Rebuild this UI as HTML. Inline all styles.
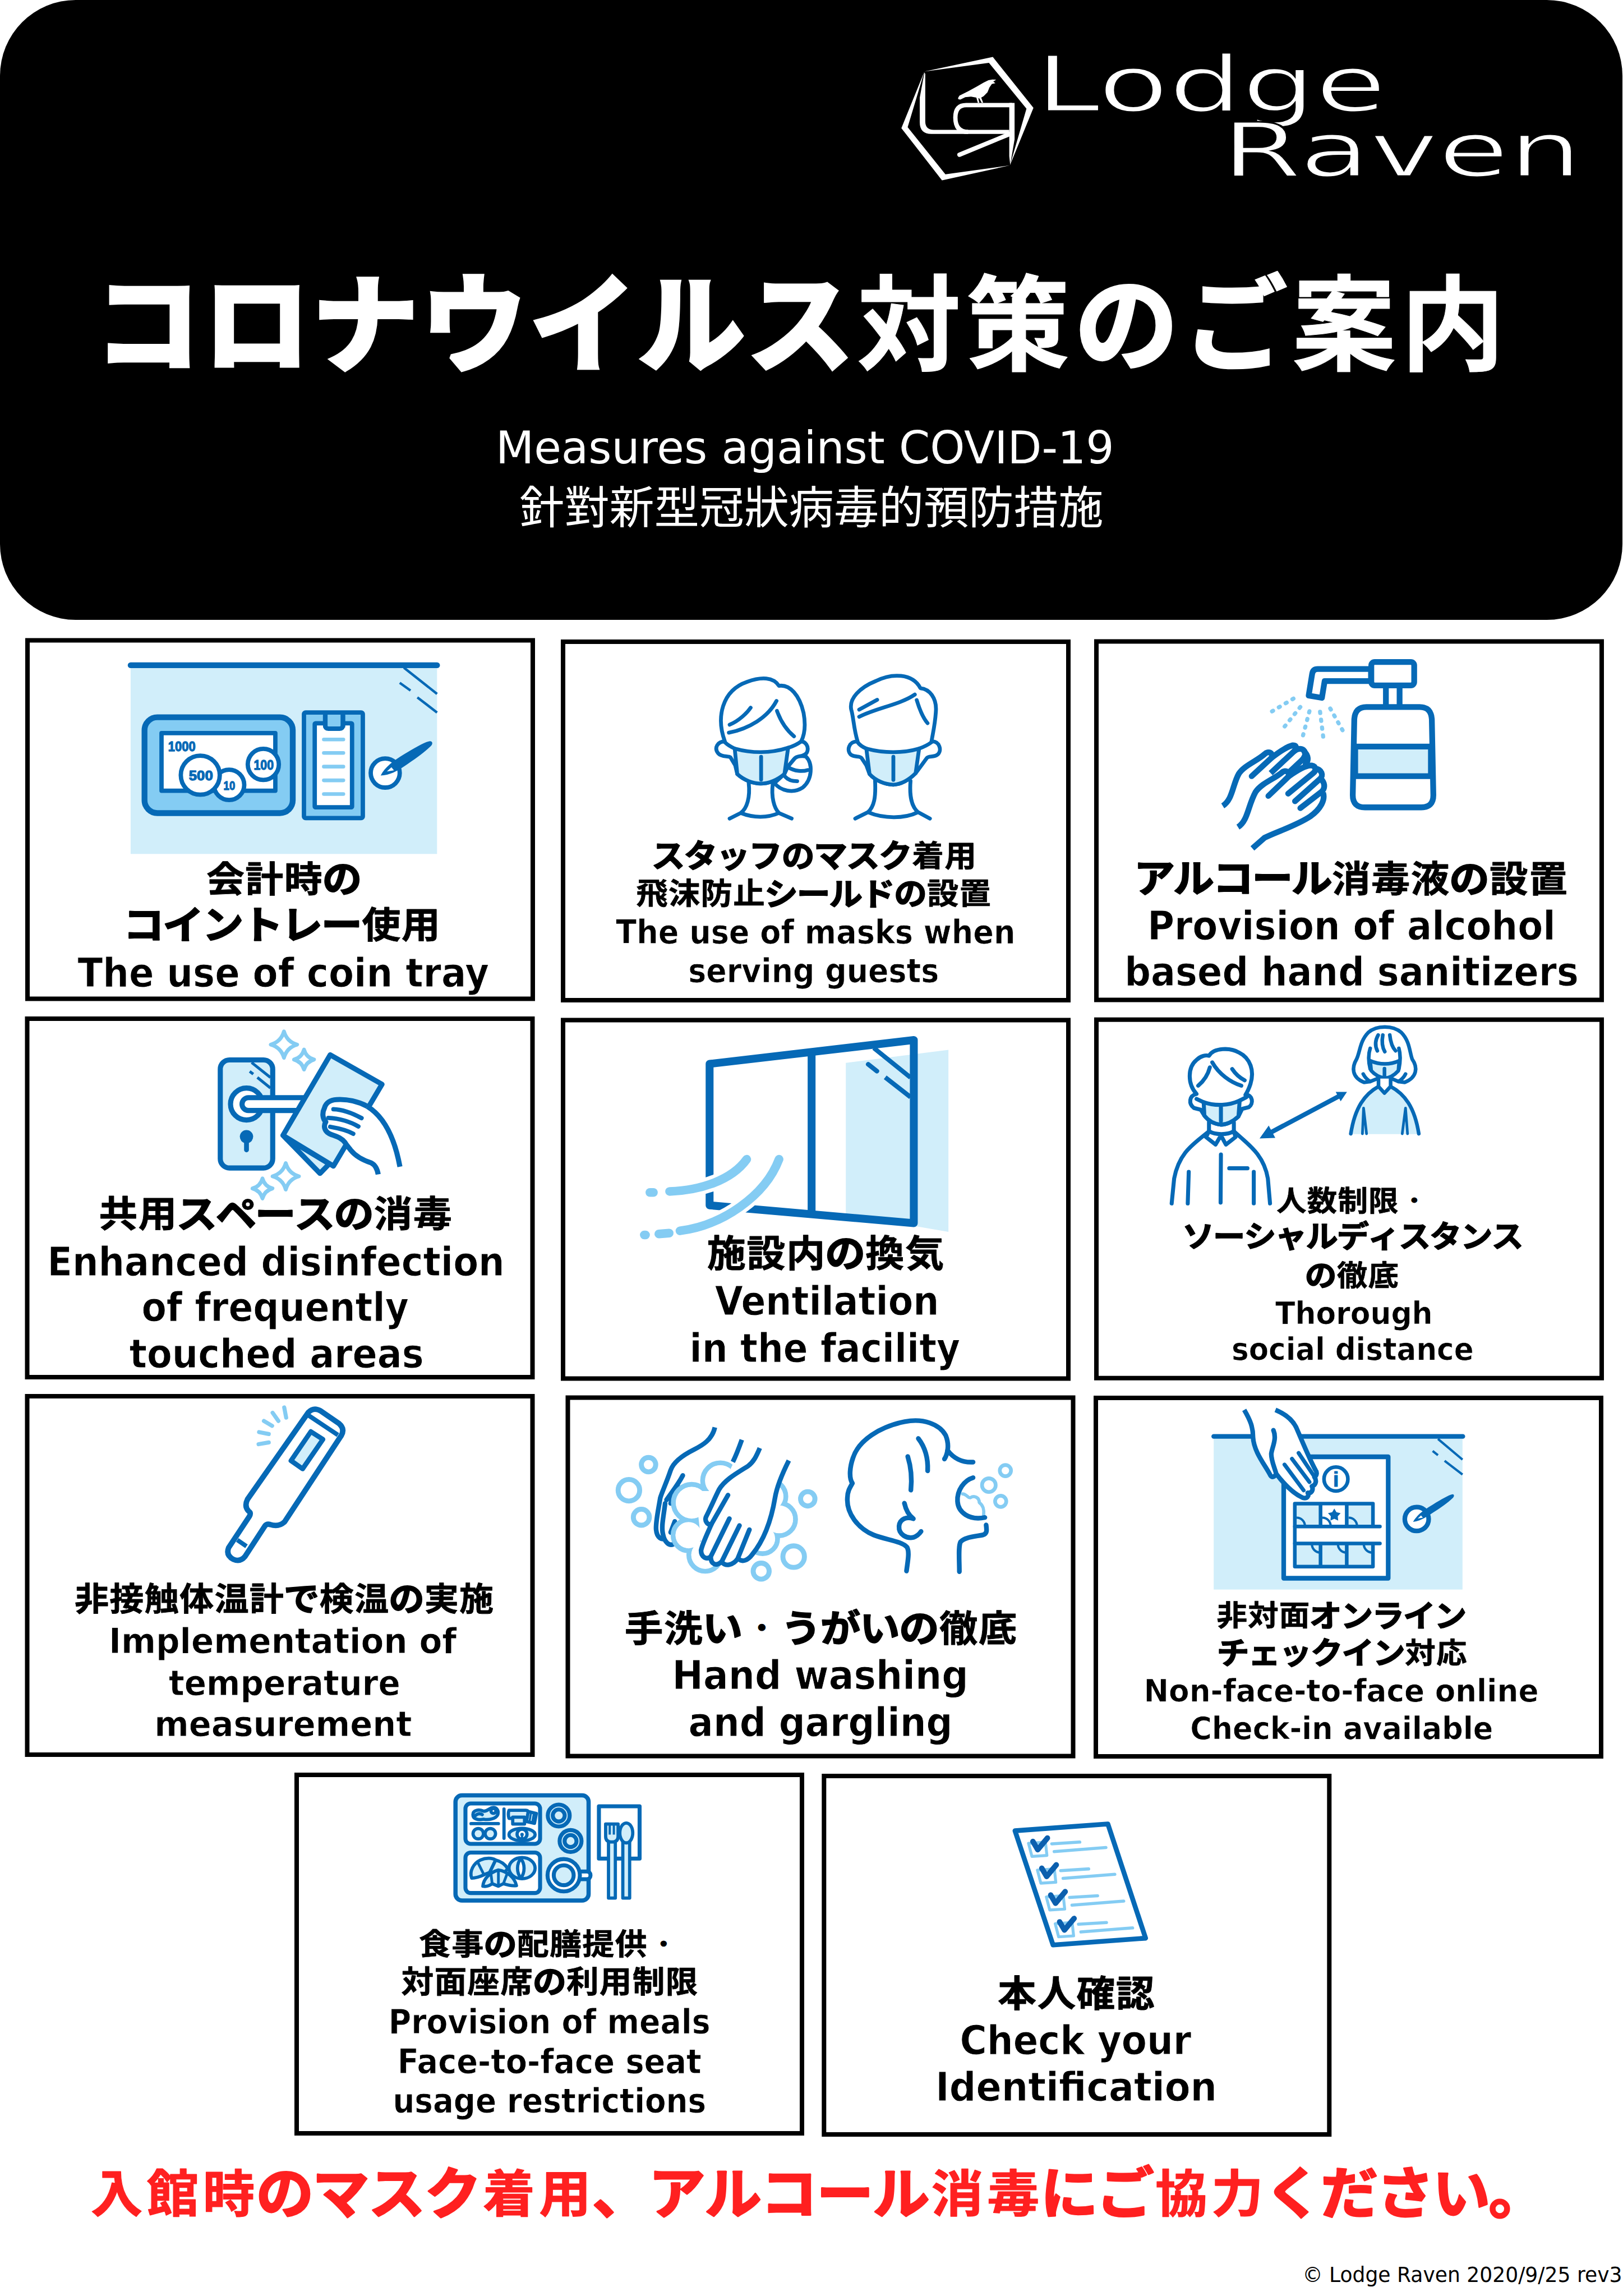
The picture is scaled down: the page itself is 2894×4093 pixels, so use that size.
<!DOCTYPE html>
<html lang="ja"><head><meta charset="utf-8"><title>コロナウイルス対策のご案内 - Lodge Raven</title>
<style>
html,body{margin:0;padding:0;background:#fff}
body{width:2894px;height:4093px;overflow:hidden}
svg{display:block}
.jb{font-kerning:none;font-family:"Liberation Sans","Noto Sans CJK JP",sans-serif;font-weight:700}
.jr{font-kerning:none;font-family:"Liberation Sans","Noto Sans CJK JP",sans-serif;font-weight:400}
.eb{font-family:"DejaVu Sans","Liberation Sans","Noto Sans CJK JP",sans-serif;font-weight:700}
.er{font-family:"DejaVu Sans","Liberation Sans","Noto Sans CJK JP",sans-serif;font-weight:400}
.s{fill:none;stroke:#0669b6;stroke-linecap:round;stroke-linejoin:round}
.sw{fill:#fff;stroke:#0669b6;stroke-linecap:round;stroke-linejoin:round}
.sl{fill:#d1eefa;stroke:#0669b6;stroke-linecap:round;stroke-linejoin:round}
.sm{fill:#84ccf3;stroke:#0669b6;stroke-linecap:round;stroke-linejoin:round}
.d{fill:#0669b6;stroke:none}
.l{fill:none;stroke:#84ccf3;stroke-linecap:round;stroke-linejoin:round}
.lw{fill:#fff;stroke:#84ccf3;stroke-linecap:round;stroke-linejoin:round}
.fl{fill:#d1eefa;stroke:none}
.fw{fill:#fff;stroke:none}
.cn{font-family:"Liberation Sans","DejaVu Sans",sans-serif;font-weight:700;fill:#0669b6;stroke:#0669b6;stroke-width:3.5px;stroke-linejoin:round}
</style></head><body>
<svg width="2894" height="4093" viewBox="0 0 2894 4093">
<rect width="2894" height="4093" fill="#fff"/>
<path d="M135 0H2758A135 135 0 0 1 2893 135V970A135 135 0 0 1 2758 1105H135A135 135 0 0 1 0 970V135A135 135 0 0 1 135 0Z" fill="#000"/>
<g transform="translate(1590 80) scale(0.17253)">

<g fill="#fff">
<path fill-rule="evenodd" d="M100 860L338 275L1045 125L1465 650L1222 1245L520 1400ZM165 850L555 1338L1222 1245L1393 660L1005 185L338 275Z"/>
<path d="M338 285L347 300V790Q347 878 435 878H1215V920H410Q290 920 290 800V545Z"/>
<path d="M1215 600H1270V975L1225 1240L1215 1150Z"/>
<path d="M685 550L700 525L790 480L880 430L950 390L1000 365L1040 358L1080 360L1050 380L1072 396L1035 405L1010 440L990 490L950 530L925 545L945 596L930 599L905 552L895 552L906 599L890 599L875 545L820 535L760 540L710 565L690 562Z"/>
</g>
<g fill="none" stroke="#fff" stroke-width="45">
<path d="M1245 622H770Q658 622 658 750Q658 899 790 899"/>
<path d="M1235 915L700 1135" stroke-linecap="round"/>
</g>

</g>
<g font-family="'DejaVu Sans','Liberation Sans',sans-serif" font-weight="400" fill="#fff" stroke="#000" stroke-width="3">
<text x="1846.5" y="198" font-size="137" textLength="625.5" lengthAdjust="spacingAndGlyphs">Lodge</text>
<text x="2178.5" y="314.3" font-size="134" textLength="642.3" lengthAdjust="spacingAndGlyphs">Raven</text>
</g>
<rect x="49" y="1141.5" width="901" height="639" fill="#fff" stroke="#000" stroke-width="8"/>
<rect x="1004" y="1144" width="901" height="639" fill="#fff" stroke="#000" stroke-width="8"/>
<rect x="1955" y="1143.5" width="901" height="639" fill="#fff" stroke="#000" stroke-width="8"/>
<rect x="48.5" y="1816" width="901" height="639" fill="#fff" stroke="#000" stroke-width="8"/>
<rect x="1004" y="1818.5" width="901" height="639" fill="#fff" stroke="#000" stroke-width="8"/>
<rect x="1955" y="1817.7" width="901" height="639" fill="#fff" stroke="#000" stroke-width="8"/>
<rect x="48.5" y="2489" width="901" height="639" fill="#fff" stroke="#000" stroke-width="8"/>
<rect x="1012.5" y="2491.5" width="901" height="639" fill="#fff" stroke="#000" stroke-width="8"/>
<rect x="1954" y="2492" width="901" height="639" fill="#fff" stroke="#000" stroke-width="8"/>
<rect x="529" y="3164" width="901" height="639" fill="#fff" stroke="#000" stroke-width="8"/>
<rect x="1469.3" y="3166" width="901" height="639" fill="#fff" stroke="#000" stroke-width="8"/>
<g transform="translate(210 1160) scale(0.36969)">

<rect class="fl" x="62" y="75" width="1478" height="905"/>
<path class="s" stroke-width="28" d="M62 70H1540"/>
<path class="s" stroke-width="12" style="stroke-linecap:butt" d="M1380 82L1540 208M1360 155L1412 192M1445 225L1540 298"/>
<rect class="sm" stroke-width="28" x="129" y="321" width="715" height="462" rx="62"/>
<rect class="sw" stroke-width="21" x="211" y="397" width="549" height="278" stroke-linejoin="miter"/>
<text class="cn" x="243" y="484" font-size="66" textLength="132" lengthAdjust="spacingAndGlyphs">1000</text>
<circle class="sw" stroke-width="21" cx="537" cy="647" r="73"/>
<text class="cn" x="510" y="670" font-size="62" textLength="56" lengthAdjust="spacingAndGlyphs">10</text>
<circle class="sw" stroke-width="21" cx="702" cy="548" r="75"/>
<text class="cn" x="656" y="573" font-size="66" textLength="96" lengthAdjust="spacingAndGlyphs">100</text>
<circle class="sw" stroke-width="21" cx="398" cy="600" r="94"/>
<text class="cn" x="343" y="624" font-size="66" textLength="116" lengthAdjust="spacingAndGlyphs">500</text>
<rect class="sm" stroke-width="21" x="898" y="298" width="284" height="509" rx="8"/>
<rect class="sw" stroke-width="21" x="950" y="350" width="180" height="405" rx="4"/>
<path class="l" stroke-width="18" d="M994 428H1088M994 493H1088M994 559H1088M994 625H1088M994 691H1088"/>
<path class="sm" stroke-width="21" d="M1000 312V360Q1000 376 1016 376H1070Q1086 376 1086 360V312"/>
<rect class="d" x="990" y="300" width="22" height="70"/><rect class="d" x="1075" y="300" width="22" height="70"/>
<circle class="sw" stroke-width="21" cx="1290" cy="590" r="70"/>
<path class="d" d="M1268 602C1290 560 1330 530 1380 500C1430 470 1480 440 1505 436C1520 436 1520 450 1510 460C1480 490 1430 525 1385 555C1350 580 1310 600 1268 602Z"/>
<path class="fw" d="M1298 582L1320 562L1332 577Z"/>

</g>
<g transform="translate(1250 1180) scale(0.28345)">

<g class="s" stroke-width="24">
<path class="sw" d="M150 500C95 350 130 180 290 125C380 92 455 95 490 150C560 140 620 210 645 320C660 400 650 460 630 500C655 500 680 530 668 565C655 600 600 590 585 612L545 660L525 705C470 750 420 765 375 765C330 765 270 745 228 705L215 650L185 600C170 590 130 600 108 575C80 540 105 500 150 500Z"/>
<path class="sl" d="M212 545C320 575 440 575 548 540L525 705C470 750 420 765 375 765C330 765 270 745 228 705Z"/>
<path d="M150 505C170 525 190 535 212 545M548 540C580 530 610 515 630 500"/>
<path d="M378 597V740"/>
<path d="M175 445C300 420 420 350 475 245M180 395C240 370 290 320 312 288M478 308C500 370 540 430 585 468"/>
<path d="M300 762C310 850 290 920 250 950L180 985M250 950C330 982 420 982 490 950M452 762C440 850 460 920 490 950L570 985"/>
<path class="sw" d="M585 612C600 590 640 590 660 595C705 640 700 740 640 790C580 830 500 810 462 762L525 705L545 660Z"/>
<path d="M545 660C590 690 640 690 672 680M530 722C550 745 580 750 605 750"/>
</g>
<g class="s" stroke-width="24">
<path class="sw" d="M985 500C960 420 960 350 945 300C930 230 1000 160 1100 120C1200 70 1330 70 1380 165C1440 170 1480 230 1478 300C1475 380 1460 440 1450 500C1500 495 1520 560 1485 585C1465 600 1430 590 1420 605L1380 660L1350 700C1300 750 1250 770 1210 772C1160 770 1100 750 1060 705L1040 650L1010 605C1000 590 965 600 945 585C912 558 930 498 985 500Z"/>
<path class="sl" d="M1040 545C1150 575 1270 575 1372 545L1350 700C1300 750 1250 770 1210 772C1160 770 1100 750 1060 705Z"/>
<path d="M985 505C1000 525 1020 537 1040 545M1372 545C1400 535 1430 520 1450 505"/>
<path d="M1210 597V742"/>
<path d="M995 345C1100 290 1250 270 1345 205M995 300L1108 238M1357 240C1375 300 1395 350 1425 385"/>
<path d="M1095 748C1100 850 1090 910 1050 945L970 985M1050 945C1150 987 1280 987 1365 945M1318 748C1310 850 1325 910 1365 945L1440 985"/>
</g>

</g>
<g transform="translate(2160 1160) scale(0.27111)">

<g class="s" stroke-width="38">
<path class="sw" d="M1050 120H700Q668 120 663 152L640 295L727 310L745 200H1050Z"/>
<rect class="sw" x="1148" y="225" width="90" height="150"/>
<rect class="sw" x="1052" y="74" width="282" height="154" rx="22"/>
<path class="sw" d="M1020 370H1370Q1445 370 1450 450L1460 950Q1460 1030 1380 1030H1010Q930 1030 930 950L940 450Q945 370 1020 370Z"/>
<path class="sl" d="M946 630H1444V825H946Z" stroke-linejoin="miter"/>
</g>
<g class="l" stroke-width="27" stroke-dasharray="8 44">
<path d="M540 315L385 407"/><path d="M585 370L478 503"/><path d="M645 398L600 568"/><path d="M715 402L737 578"/><path d="M782 380L868 532"/>
</g>
<g class="s" stroke-width="38" style="stroke-linecap:butt">
<path d="M75 1020C140 980 140 880 180 810C215 755 300 725 350 680C375 655 410 672 395 705"/>
<path d="M395 705L265 825" style="stroke-linecap:round"/>
<path d="M390 805L545 660C565 640 560 620 535 622C500 630 440 670 395 705"/>
<path d="M545 660C570 640 600 640 612 660C625 685 610 705 595 720L520 790" style="stroke-linecap:round"/>
<path d="M612 665C640 690 640 725 620 745" style="stroke-linecap:round"/>
<path d="M175 1160C240 1120 240 1020 290 930C330 870 420 840 465 800C490 780 520 800 505 830"/>
<path d="M505 830L375 955" style="stroke-linecap:round"/>
<path d="M505 940L670 805C690 790 690 760 660 755C620 750 560 790 510 825" style="stroke-linecap:round"/>
<path d="M685 775C725 780 740 820 715 842L550 990" style="stroke-linecap:round"/>
<path d="M728 850C750 880 745 910 725 927L585 1035" style="stroke-linecap:round"/>
<path d="M735 935C750 980 720 1040 650 1090C560 1150 430 1190 350 1230L270 1300"/>
</g>

</g>
<g transform="translate(370 1820) scale(0.22797)">

<g class="lw" stroke-width="30">
<path d="M598 82Q620.66 162.34 701 185Q620.66 207.66 598 288Q575.34 207.66 495 185Q575.34 162.34 598 82Z"/><path d="M755 224Q772.16 284.84 833 302Q772.16 319.16 755 380Q737.84 319.16 677 302Q737.84 284.84 755 224Z"/><path d="M612 1112Q634.66 1192.34 715 1215Q634.66 1237.66 612 1318Q589.34 1237.66 509 1215Q589.34 1192.34 612 1112Z"/><path d="M430 1232Q447.16 1292.84 508 1310Q447.16 1327.16 430 1388Q412.84 1327.16 352 1310Q412.84 1292.84 430 1232Z"/>
</g>
<g class="s" stroke-width="40">
<rect class="sl" x="100" y="305" width="410" height="845" rx="72"/>
<path stroke-width="22" style="stroke-linecap:butt" d="M345 325L492 442M330 395L358 416M390 442L492 524"/>
<circle class="sw" cx="305" cy="650" r="125"/>
<path class="sw" d="M780 600H320A50 50 0 0 0 320 700H780Z"/>
<circle class="d" cx="305" cy="905" r="52"/><path d="M305 930V1008" stroke-width="38"/>
<path class="sl" d="M600 905L880 1192L952 1118Z"/>
<path class="sl" d="M960 265L1365 495L985 1135L590 895Z"/>
<path class="fw" d="M925 650C950 620 1000 612 1040 615C1120 615 1210 645 1290 695C1400 780 1470 950 1505 1140L1335 1200C1330 1170 1320 1130 1280 1110C1220 1090 1160 1060 1120 1010C1090 965 1050 930 1010 900C980 895 940 890 925 850C905 820 915 800 920 790C890 760 890 700 925 650Z"/>
<path d="M1250 668C1400 760 1470 950 1505 1140" style="stroke-linecap:butt"/>
<path d="M1250 668C1180 630 1090 610 1010 615C960 618 925 640 915 680C895 720 900 765 925 790C905 820 915 860 950 880C990 900 1040 905 1075 950C1090 975 1105 990 1120 1010C1160 1060 1220 1090 1280 1110C1320 1130 1330 1170 1335 1200" style="stroke-linecap:butt"/>
<path d="M985 690C1060 692 1150 730 1205 760M945 758C1030 760 1120 790 1180 825M960 828C1030 840 1100 860 1140 882" stroke-width="34"/>
</g>

</g>
<g transform="translate(1120 1830) scale(0.36969)">

<path class="fl" d="M1050 175L1545 112V990L1050 905Z"/>
<g class="s" stroke-width="38">
<path d="M393 180L1378 65V948L393 862Z"/>
<path d="M885 125V905" style="stroke-linecap:butt"/>
<path stroke-width="22" style="stroke-linecap:butt" d="M1185 103L1362 246M1240 245L1362 340"/><path stroke-width="22" d="M1158 182L1200 215"/>
</g>
<g fill="none" stroke="#fff" stroke-width="76" stroke-linecap="round">
<path d="M200 795C350 790 500 740 572 640"/><path d="M250 985C450 960 660 820 728 640"/><path d="M150 1000L198 996"/>
</g>
<g class="l" stroke-width="42">
<path d="M200 795C350 790 500 740 572 640"/><path d="M250 985C450 960 660 820 728 640"/>
<path d="M105 800L122 800"/><path d="M148 1000L198 996"/><path d="M78 1005L84 1005"/>
</g>

</g>
<g transform="translate(2070 1820) scale(0.29575)">

<g class="s" stroke-width="24">
<path class="sw" d="M215 440C160 380 160 280 215 235C240 210 270 205 290 210C320 160 420 160 470 190C540 225 565 300 540 380C530 410 520 430 510 445C555 445 560 500 530 520L490 530L468 575C430 610 390 625 360 625C320 620 285 600 262 570L240 535L200 525C165 500 170 450 215 440Z"/>
<path class="sl" d="M258 490C330 515 410 510 475 480L468 575C430 610 390 625 360 625C320 620 285 600 262 570Z"/>
<path d="M215 470L258 490M475 480L515 460"/>
<path d="M362 522V603"/>
<path d="M225 390C260 360 285 320 295 280M310 250C350 320 420 370 485 390M430 290C450 320 480 345 505 358"/>
<path d="M290 610V665M440 612V665"/>
<path d="M290 665L272 700L330 745L362 690L392 745L450 700L440 665M290 665C330 688 400 688 440 665"/>
<path d="M290 665C200 740 110 790 80 950L65 1100M440 665C520 740 620 800 645 950L658 1100"/>
<path d="M168 910L162 1100M560 910V1100M362 805L360 1095M412 888H522"/>
</g>
<g class="s" stroke-width="22">
<path class="sl" stroke="none" style="stroke:none" d="M1312 395C1230 440 1170 520 1145 682H1555C1530 520 1470 440 1385 395L1348 435Z"/>
<path d="M1312 395C1230 440 1170 520 1145 680M1385 395C1470 440 1530 520 1555 680"/>
<path class="sw" d="M1225 370C1150 340 1150 280 1180 230C1200 190 1200 120 1250 70C1300 25 1400 25 1450 70C1500 120 1500 190 1515 230C1550 280 1545 340 1470 370L1432 365L1385 345H1312L1262 365Z"/>
<path class="sl" d="M1262 240C1320 265 1380 265 1437 240L1432 300C1400 335 1370 345 1348 345C1320 340 1290 325 1268 300Z"/>
<path d="M1262 165C1250 200 1250 240 1262 290M1310 85C1290 120 1290 150 1305 180M1338 85C1330 130 1335 160 1350 185M1380 85C1385 130 1395 160 1415 180M1435 165C1445 200 1445 240 1435 290"/>
<path d="M1348 287V333"/>
<path d="M1220 320C1230 340 1245 355 1262 365M1475 320C1465 340 1450 355 1432 365"/>
<path class="sw" d="M1312 347V395L1348 435L1385 395V347"/>
<path d="M1222 525L1215 680M1222 525L1240 680M1475 525L1455 680M1475 525L1487 680" stroke-width="16"/>
</g>
<path class="d" d="M595 708L650.3 630.9L663.4 655.6L1062.4 443.7L1054 427.9L1122 428L1084 484.4L1075.6 468.5L676.6 680.4L689.7 705.1Z"/>

</g>
<g transform="translate(380 2490) scale(0.17253)">

<g class="s" stroke-width="56">
<path class="sw" d="M985 160Q1040 105 1110 145L1300 275Q1365 330 1325 400L740 1290Q680 1350 590 1320Q555 1310 535 1335L330 1650Q280 1710 210 1680Q130 1640 160 1560L375 1235Q395 1200 365 1180Q320 1130 355 1060Z"/>
<path d="M990 195L1290 395M250 1480L345 1545" style="stroke-linecap:butt" stroke-width="46"/>
<path class="sl" stroke-width="50" d="M1010 360L1135 440L925 745L805 660Z"/>
</g>
<path class="l" stroke="#7ec3ee" stroke-width="42" d="M735 110L755 215M615 165L675 250M525 250L610 300M475 365L575 385M470 490L575 472"/>

</g>
<g transform="translate(1080 2510) scale(0.24646)">

<g class="l" stroke-width="36"><circle cx="310" cy="410" r="52"/><circle cx="168" cy="595" r="78"/><circle cx="258" cy="790" r="58"/><circle cx="1462" cy="657" r="52"/><circle cx="1125" cy="1180" r="58"/><circle cx="1360" cy="1075" r="78"/></g>
<g class="s" stroke-width="34">
<path style="stroke-linecap:butt" d="M790 140C770 230 700 270 640 300C560 340 490 390 470 450C440 540 410 600 395 650C380 740 360 830 365 880C370 940 410 960 430 940"/>
<path d="M558 488C520 560 470 620 440 665M430 690C420 780 400 860 415 915C425 970 460 1000 490 985M520 560C500 600 480 650 470 690M500 820L470 900"/>
</g>
<circle class="l" stroke-width="36" cx="830" cy="525" r="128"/><circle class="l" stroke-width="36" cx="622" cy="685" r="132"/><circle class="l" stroke-width="36" cx="600" cy="920" r="112"/><circle class="l" stroke-width="36" cx="720" cy="1062" r="118"/><circle class="l" stroke-width="36" cx="1185" cy="640" r="118"/><circle class="l" stroke-width="36" cx="1255" cy="805" r="118"/><circle class="l" stroke-width="36" cx="1135" cy="945" r="108"/><circle class="fw" cx="830" cy="525" r="111"/><circle class="fw" cx="622" cy="685" r="115"/><circle class="fw" cx="600" cy="920" r="95"/><circle class="fw" cx="720" cy="1062" r="101"/><circle class="fw" cx="1185" cy="640" r="101"/><circle class="fw" cx="1255" cy="805" r="101"/><circle class="fw" cx="1135" cy="945" r="91"/><path class="fw" d="M650 600L1150 600L1200 900L700 1050Z"/>
<g class="s" stroke-width="34">
<path class="fw" style="stroke:none" d="M985 230L1325 380C1280 470 1240 560 1225 650C1200 800 1150 950 1060 1060C1030 1100 990 1120 960 1090C920 1140 860 1150 840 1110C800 1150 760 1130 760 1075C730 1100 690 1080 690 1030C700 980 740 900 765 840C740 850 715 820 725 790C760 720 790 650 820 590C860 520 920 440 985 230Z"/>
<path style="stroke-linecap:butt" d="M985 230C960 300 940 350 920 390"/>
<path style="stroke-linecap:butt" d="M1115 290C1090 350 1070 390 1030 420C950 470 860 520 820 590C790 650 760 720 725 790C715 820 740 850 765 840"/>
<path d="M765 840L885 630"/>
<path style="stroke-linecap:butt" d="M1325 380C1280 470 1240 560 1225 650C1200 800 1150 950 1060 1060C1030 1100 990 1120 960 1090"/>
<path d="M765 840C740 900 700 980 690 1030C690 1080 730 1100 760 1075L895 800M760 1075C760 1130 800 1150 840 1110L968 850M840 1110C860 1150 920 1140 955 1090L1040 880"/>
</g>

</g>
<g transform="translate(1480 2510) scale(0.22181)">

<g class="l" stroke-width="30"><circle cx="1410" cy="503" r="45"/><circle cx="1277" cy="620" r="55"/><circle cx="1372" cy="750" r="45"/>
<path stroke-width="26" d="M1065 690C1100 690 1110 730 1130 720C1160 700 1200 720 1200 760C1230 780 1240 820 1235 860"/></g>
<g class="s" stroke-width="38">
<path d="M615 1310C625 1230 640 1160 620 1120C580 1070 450 1060 350 1020C230 970 130 850 140 720C140 670 160 640 180 605C150 560 160 470 185 400C230 260 400 150 600 110C750 80 880 130 930 220C950 270 950 310 945 340C990 400 1060 440 1150 435"/>
<path d="M945 340C940 370 930 395 920 410"/>
<path d="M710 245C760 310 790 400 785 505M625 390C650 470 660 560 650 660"/>
<path d="M598 765C610 820 630 860 670 890C620 870 560 890 555 950C550 1020 620 1050 670 1040C700 1030 720 1010 732 992"/>
<path d="M1150 560C1080 580 1020 660 1025 750C1030 840 1120 905 1245 880"/>
<path d="M1255 940C1260 980 1265 1010 1230 1020C1150 1035 1080 1040 1050 1075C1030 1110 1040 1220 1040 1315"/>
</g>

</g>
<g transform="translate(2150 2500) scale(0.29575)">

<rect class="fl" x="48" y="205" width="1500" height="923"/>
<path class="s" stroke-width="28" d="M48 205H1550"/>
<path class="s" stroke-width="14" style="stroke-linecap:butt" d="M1400 220L1548 345M1368 293L1400 318M1440 352L1548 435"/>
<rect class="sw" stroke-width="28" x="470" y="328" width="630" height="732"/>
<circle class="sw" stroke-width="22" cx="785" cy="462" r="72"/>
<text class="cn" x="785" y="508" font-size="126" text-anchor="middle" stroke="#0669b6" stroke-width="5">i</text>
<rect class="sl" stroke-width="22" x="537" y="610" width="471" height="380"/>
<rect class="fw" x="703" y="621" width="136" height="120"/>
<path class="s" stroke-width="22" style="stroke-linecap:butt" d="M692 610V990M850 610V990"/>
<path class="s" stroke-width="14" style="stroke-linecap:butt" d="M548 695A50 50 0 0 1 598 745M703 695A50 50 0 0 1 753 745M862 695A50 50 0 0 1 912 745M640 855A50 50 0 0 0 690 905M797 855A50 50 0 0 0 847 905M953 855A50 50 0 0 0 1003 905"/>
<rect class="fw" x="548" y="748" width="500" height="102"/>
<path class="s" stroke-width="22" d="M537 748H1050M537 850H1050"/>
<path class="d" stroke="#0669b6" stroke-width="12" stroke-linejoin="round" d="M775.0 640.0L787.9 662.2L813.0 667.6L795.9 686.8L798.5 712.4L775.0 702.0L751.5 712.4L754.1 686.8L737.0 667.6L762.1 662.2Z"/>
<circle class="sw" stroke-width="28" cx="1272" cy="703" r="72"/>
<path class="d" d="M1250 720C1275 675 1320 645 1370 615C1420 585 1465 558 1488 554C1500 555 1498 568 1490 576C1460 605 1410 640 1365 668C1330 692 1290 715 1250 720Z"/>
<path class="fw" d="M1278 700L1298 681L1309 695Z"/>
<path class="fw" d="M232 45H420C480 70 520 100 545 150C580 230 620 330 660 405C672 420 672 440 655 450C670 470 665 500 640 505C650 525 640 550 615 545C625 565 610 582 585 575C530 550 470 490 425 430C410 452 398 455 390 440C360 380 290 300 285 210C285 150 270 110 232 45Z"/>
<g class="s" stroke-width="28">
<path style="stroke-linecap:butt" d="M232 45C270 110 285 150 285 210C290 300 360 380 390 440C400 455 415 450 425 430"/>
<path style="stroke-linecap:butt" d="M420 45C480 70 520 100 545 150C580 230 620 330 660 405"/>
<path d="M408 168C430 220 400 270 395 310C395 350 410 380 425 430C470 490 530 550 585 575C610 582 625 565 615 545C640 550 650 525 640 505C665 500 670 470 655 450C672 440 672 420 660 405"/>
<path stroke-width="24" d="M475 375L590 530M520 340L625 480M560 305L650 440"/>
</g>

</g>
<g transform="translate(800 3185) scale(0.22181)">

<g class="s" stroke-width="32">
<rect class="sl" stroke-width="34" x="55" y="70" width="1070" height="845" rx="52"/>
<rect class="sw" x="135" y="135" width="600" height="325" rx="42"/>
<rect class="sw" x="135" y="530" width="600" height="325" rx="42"/>
<g stroke-width="26">
<path d="M445 180V415M180 297H400"/>
<circle class="sl" cx="238" cy="378" r="42"/><circle class="sl" cx="335" cy="378" r="42"/>
<path class="sl" d="M195 225C195 190 240 180 275 195C300 205 320 180 345 170C385 160 405 190 395 225C380 260 320 270 280 262C240 270 195 262 195 225Z"/>
<circle class="sw" cx="360" cy="195" r="20"/>
<path d="M215 232C235 215 255 215 270 225"/>
<path class="sl" d="M485 190H620Q640 190 640 210V255H485Q475 220 485 190Z"/>
<path class="sl" d="M515 245H610V300H515Z"/>
<path class="sl" d="M640 200L705 215L690 295L625 280Z"/><path d="M662 210L650 282M685 214L672 288" stroke-width="16"/>
<ellipse class="sl" cx="590" cy="385" rx="105" ry="50"/><circle class="sw" cx="590" cy="382" r="40"/>
<circle class="d" cx="590" cy="385" r="14"/><path d="M590 390V425" stroke-width="18"/>
<ellipse class="sl" cx="590" cy="655" rx="105" ry="85"/><path class="sw" d="M580 580C545 620 545 690 580 735C615 690 615 620 580 580Z"/>
<path class="sl" d="M185 735C165 680 200 615 255 590C300 570 350 572 378 590L330 690C290 700 250 735 185 735Z"/>
<path class="sl" d="M378 590C420 600 455 625 475 660L420 720L330 690Z"/>
<path class="sl" d="M275 800C280 740 330 690 400 670C470 680 530 730 545 795C500 800 470 790 440 780L400 800L350 780C330 795 300 805 275 800Z"/>
<path d="M235 610L280 700M350 780L340 700M440 780L470 700M400 670V800" stroke-width="22"/>
</g>
<circle class="sl" cx="885" cy="232" r="88"/><circle class="sl" cx="885" cy="232" r="48"/>
<circle class="sl" cx="980" cy="437" r="88"/><circle class="sl" cx="980" cy="437" r="48"/>
<rect class="sw" x="1040" y="682" width="100" height="62" rx="28"/>
<circle class="sw" cx="925" cy="712" r="130"/><circle class="sl" cx="925" cy="712" r="80"/>
<rect class="sw" x="1208" y="158" width="327" height="420" stroke-linejoin="miter"/>
<g stroke-width="26">
<path class="sl" d="M1285 440V895H1340V440"/>
<path class="sl" d="M1262 300H1362V400Q1362 445 1312 445Q1262 445 1262 400Z"/>
<path d="M1295 300V385M1328 300V385" stroke-width="18" style="stroke-linecap:butt"/>
<path class="sl" d="M1400 440V895H1455V440"/>
<ellipse class="sl" cx="1428" cy="372" rx="52" ry="80"/>
</g>
</g>

</g>
<g transform="translate(1790 3230) scale(0.17253)">

<path class="sw" stroke-width="50" d="M115 195L1075 125L1465 1305L508 1375Z"/>
<g transform="translate(0 0)"><path class="l" stroke-width="30" d="M255 325L430 312L445 450L290 460Z"/><path class="l" stroke-width="32" d="M495 330L785 312M520 410L1055 368"/><path class="s" stroke="#0b5fae" style="stroke:#0b5fae" stroke-width="56" d="M300 305L350 390L450 270"/></g>
<g transform="translate(92 277)"><path class="l" stroke-width="30" d="M255 325L430 312L445 450L290 460Z"/><path class="l" stroke-width="32" d="M495 330L785 312M520 410L1055 368"/><path class="s" stroke="#0b5fae" style="stroke:#0b5fae" stroke-width="56" d="M300 305L350 390L450 270"/></g>
<g transform="translate(184 554)"><path class="l" stroke-width="30" d="M255 325L430 312L445 450L290 460Z"/><path class="l" stroke-width="32" d="M495 330L785 312M520 410L1055 368"/><path class="s" stroke="#0b5fae" style="stroke:#0b5fae" stroke-width="56" d="M300 305L350 390L450 270"/></g>
<g transform="translate(276 831)"><path class="l" stroke-width="30" d="M255 325L430 312L445 450L290 460Z"/><path class="l" stroke-width="32" d="M495 330L785 312M520 410L1055 368"/><path class="s" stroke="#0b5fae" style="stroke:#0b5fae" stroke-width="56" d="M300 305L350 390L450 270"/></g>


</g>
<text class="jb" text-anchor="middle" x="263.6 457.5 651.4 845.3 1039.2 1233.1 1427.0 1620.9 1814.8 2008.7 2202.6 2396.5 2590.4" y="649.0" fill="#fff" stroke="#fff" stroke-linejoin="miter" stroke-miterlimit="2"><tspan font-size="188.08" dy="-2.21" stroke-width="8.73">コロナウイルス</tspan><tspan font-size="185.18" dy="-1.11">対策</tspan><tspan font-size="185.18" dy="0.00" stroke-width="4.27">のご</tspan><tspan font-size="185.18" dy="0.00">案内</tspan></text>
<text class="er" x="883.9" y="826.0" font-size="81.00" textLength="1102.7" lengthAdjust="spacingAndGlyphs" fill="#fff">Measures against COVID-19</text>
<text class="jr" text-anchor="middle" x="966.4 1046.5 1126.6 1206.7 1286.7 1366.8 1446.9 1527.0 1607.1 1687.2 1767.3 1847.4 1927.5" y="933.2" fill="#fff"><tspan font-size="80.09" dy="-0.00">針對新型冠狀病毒的預防措施</tspan></text>
<text class="jb" transform="scale(1.06 1)" text-anchor="middle" x="379.2 444.7 510.1 575.6" y="1591.6" fill="#000" stroke="#000" stroke-linejoin="round"><tspan font-size="64.16" dy="-1.98" stroke-width="0.83">会計時</tspan><tspan font-size="66.59" dy="0.92" stroke-width="1.94">の</tspan></text>
<text class="jb" transform="scale(1.06 1)" text-anchor="middle" x="241.9 308.5 375.1 441.7 508.2 574.8 641.4 708.0" y="1674.3" fill="#000" stroke="#000" stroke-linejoin="round"><tspan font-size="69.16" dy="-0.54" stroke-width="2.12">コイントレー</tspan><tspan font-size="65.28" dy="-1.47" stroke-width="0.85">使用</tspan></text>
<text class="eb" x="138.4" y="1758.7" font-size="70.38" textLength="733.7" lengthAdjust="spacingAndGlyphs" fill="#000" stroke="#fff" stroke-width="0.91">The use of coin tray</text>
<text class="jb" transform="scale(1.06 1)" text-anchor="middle" x="1124.1 1178.7 1233.3 1287.9 1342.6 1397.2 1451.8 1506.4 1561.0 1615.6" y="1546.9" fill="#000" stroke="#000" stroke-linejoin="round"><tspan font-size="56.74" dy="-0.44" stroke-width="1.74">スタッフ</tspan><tspan font-size="55.58" dy="-0.44" stroke-width="1.62">の</tspan><tspan font-size="56.74" dy="0.44" stroke-width="1.74">マスク</tspan><tspan font-size="53.55" dy="-1.21" stroke-width="0.69">着用</tspan></text>
<text class="jb" transform="scale(1.06 1)" text-anchor="middle" x="1096.7 1151.1 1205.4 1259.8 1314.2 1368.5 1422.9 1477.2 1531.6 1586.0 1640.3" y="1614.0" fill="#000" stroke="#000" stroke-linejoin="round"><tspan font-size="53.30" dy="-1.64" stroke-width="0.69">飛沫防止</tspan><tspan font-size="56.47" dy="1.20" stroke-width="1.73">シールド</tspan><tspan font-size="55.32" dy="-0.44" stroke-width="1.61">の</tspan><tspan font-size="53.30" dy="-0.77" stroke-width="0.69">設置</tspan></text>
<text class="eb" x="1098.3" y="1682.0" font-size="57.96" textLength="712.2" lengthAdjust="spacingAndGlyphs" fill="#000" stroke="#fff" stroke-width="0.75">The use of masks when</text>
<text class="eb" x="1227.2" y="1751.0" font-size="57.96" textLength="447.1" lengthAdjust="spacingAndGlyphs" fill="#000" stroke="#fff" stroke-width="0.75">serving guests</text>
<text class="jb" transform="scale(1.06 1)" text-anchor="middle" x="1941.9 2008.1 2074.4 2140.6 2206.9 2273.1 2339.4 2405.6 2471.8 2538.1 2604.3" y="1591.9" fill="#000" stroke="#000" stroke-linejoin="round"><tspan font-size="68.81" dy="-0.53" stroke-width="2.11">アルコール</tspan><tspan font-size="64.95" dy="-1.47" stroke-width="0.84">消毒液</tspan><tspan font-size="67.41" dy="0.93" stroke-width="1.97">の</tspan><tspan font-size="64.95" dy="-0.93" stroke-width="0.84">設置</tspan></text>
<text class="eb" x="2046.0" y="1674.6" font-size="70.38" textLength="727.7" lengthAdjust="spacingAndGlyphs" fill="#000" stroke="#fff" stroke-width="0.91">Provision of alcohol</text>
<text class="eb" x="2005.2" y="1756.5" font-size="70.38" textLength="809.8" lengthAdjust="spacingAndGlyphs" fill="#000" stroke="#fff" stroke-width="0.91">based hand sanitizers</text>
<text class="jb" transform="scale(1.06 1)" text-anchor="middle" x="198.9 265.0 331.1 397.2 463.3 529.3 595.4 661.5 727.6" y="2189.3" fill="#000" stroke="#000" stroke-linejoin="round"><tspan font-size="64.80" dy="-2.00" stroke-width="0.84">共用</tspan><tspan font-size="68.65" dy="1.46" stroke-width="2.10">スペース</tspan><tspan font-size="67.25" dy="-0.53" stroke-width="1.96">の</tspan><tspan font-size="64.80" dy="-0.93" stroke-width="0.84">消毒</tspan></text>
<text class="eb" x="84.2" y="2274.0" font-size="70.38" textLength="815.5" lengthAdjust="spacingAndGlyphs" fill="#000" stroke="#fff" stroke-width="0.91">Enhanced disinfection</text>
<text class="eb" x="252.4" y="2355.3" font-size="70.38" textLength="476.4" lengthAdjust="spacingAndGlyphs" fill="#000" stroke="#fff" stroke-width="0.91">of frequently</text>
<text class="eb" x="230.8" y="2437.6" font-size="70.38" textLength="524.9" lengthAdjust="spacingAndGlyphs" fill="#000" stroke="#fff" stroke-width="0.91">touched areas</text>
<text class="jb" transform="scale(1.06 1)" text-anchor="middle" x="1222.0 1288.6 1355.3 1422.0 1488.6 1555.3" y="2260.0" fill="#000" stroke="#000" stroke-linejoin="round"><tspan font-size="65.36" dy="-2.01" stroke-width="0.85">施設内</tspan><tspan font-size="67.83" dy="0.94" stroke-width="1.98">の</tspan><tspan font-size="65.36" dy="-0.94" stroke-width="0.85">換気</tspan></text>
<text class="eb" x="1274.8" y="2344.4" font-size="70.38" textLength="399.5" lengthAdjust="spacingAndGlyphs" fill="#000" stroke="#fff" stroke-width="0.91">Ventilation</text>
<text class="eb" x="1229.6" y="2428.4" font-size="70.38" textLength="482.5" lengthAdjust="spacingAndGlyphs" fill="#000" stroke="#fff" stroke-width="0.91">in the facility</text>
<text class="jb" transform="scale(1.06 1)" text-anchor="middle" x="2172.4 2224.0 2275.7 2327.3 2379.0" y="2160.4" fill="#000" stroke="#000" stroke-linejoin="round"><tspan font-size="50.63" dy="-1.56" stroke-width="0.66">人数制限</tspan><tspan font-size="35.58" dy="-5.72">・</tspan></text>
<text class="jb" transform="scale(1.06 1)" text-anchor="middle" x="2015.6 2067.6 2119.7 2171.7 2223.7 2275.8 2327.8 2379.8 2431.8 2483.9 2535.9" y="2224.6" fill="#000" stroke="#000" stroke-linejoin="round"><tspan font-size="54.05" dy="-0.42" stroke-width="1.65">ソーシャルディスタンス</tspan></text>
<text class="jb" transform="scale(1.06 1)" text-anchor="middle" x="2221.9 2274.5 2327.1" y="2293.5" fill="#000" stroke="#000" stroke-linejoin="round"><tspan font-size="53.51" dy="-0.85" stroke-width="1.56">の</tspan><tspan font-size="51.56" dy="-0.74" stroke-width="0.67">徹底</tspan></text>
<text class="eb" x="2274.1" y="2359.7" font-size="55.37" textLength="280.5" lengthAdjust="spacingAndGlyphs" fill="#000" stroke="#fff" stroke-width="0.72">Thorough</text>
<text class="eb" x="2196.0" y="2424.4" font-size="55.37" textLength="431.6" lengthAdjust="spacingAndGlyphs" fill="#000" stroke="#fff" stroke-width="0.72">social distance</text>
<text class="jb" transform="scale(1.06 1)" text-anchor="middle" x="154.3 213.1 272.0 330.8 389.7 448.5 507.3 566.2 625.0 683.9 742.7 801.6" y="2872.7" fill="#000" stroke="#000" stroke-linejoin="round"><tspan font-size="57.70" dy="-1.78" stroke-width="0.75">非接触体温計</tspan><tspan font-size="59.88" dy="0.83" stroke-width="1.75">で</tspan><tspan font-size="57.70" dy="-0.83" stroke-width="0.75">検温</tspan><tspan font-size="59.88" dy="0.83" stroke-width="1.75">の</tspan><tspan font-size="57.70" dy="-0.83" stroke-width="0.75">実施</tspan></text>
<text class="eb" x="193.9" y="2946.6" font-size="63.13" textLength="620.3" lengthAdjust="spacingAndGlyphs" fill="#000" stroke="#fff" stroke-width="0.82">Implementation of</text>
<text class="eb" x="301.1" y="3021.5" font-size="63.13" textLength="412.6" lengthAdjust="spacingAndGlyphs" fill="#000" stroke="#fff" stroke-width="0.82">temperature</text>
<text class="eb" x="275.2" y="3095.4" font-size="63.13" textLength="459.2" lengthAdjust="spacingAndGlyphs" fill="#000" stroke="#fff" stroke-width="0.82">measurement</text>
<text class="jb" transform="scale(1.06 1)" text-anchor="middle" x="1083.2 1149.3 1215.5 1281.6 1347.8 1413.9 1480.1 1546.2 1612.4 1678.5" y="2928.4" fill="#000" stroke="#000" stroke-linejoin="round"><tspan font-size="64.86" dy="-2.00" stroke-width="0.84">手洗</tspan><tspan font-size="67.31" dy="0.93" stroke-width="1.96">い</tspan><tspan font-size="45.58" dy="-8.26">・</tspan><tspan font-size="67.31" dy="8.26" stroke-width="1.96">うがいの</tspan><tspan font-size="64.86" dy="-0.93" stroke-width="0.84">徹底</tspan></text>
<text class="eb" x="1198.5" y="3011.2" font-size="70.38" textLength="528.2" lengthAdjust="spacingAndGlyphs" fill="#000" stroke="#fff" stroke-width="0.91">Hand washing</text>
<text class="eb" x="1227.5" y="3095.0" font-size="70.38" textLength="471.1" lengthAdjust="spacingAndGlyphs" fill="#000" stroke="#fff" stroke-width="0.91">and gargling</text>
<text class="jb" transform="scale(1.06 1)" text-anchor="middle" x="2072.4 2125.0 2177.5 2230.0 2282.5 2335.1 2387.6 2440.1" y="2900.1" fill="#000" stroke="#000" stroke-linejoin="round"><tspan font-size="51.50" dy="-1.59" stroke-width="0.67">非対面</tspan><tspan font-size="54.56" dy="1.16" stroke-width="1.67">オンライン</tspan></text>
<text class="jb" transform="scale(1.06 1)" text-anchor="middle" x="2074.2 2126.7 2179.2 2231.8 2284.3 2336.8 2389.3 2441.8" y="2966.9" fill="#000" stroke="#000" stroke-linejoin="round"><tspan font-size="54.55" dy="-0.42" stroke-width="1.67">チェックイン</tspan><tspan font-size="51.49" dy="-1.16" stroke-width="0.67">対応</tspan></text>
<text class="eb" x="2039.6" y="3033.0" font-size="55.89" textLength="703.9" lengthAdjust="spacingAndGlyphs" fill="#000" stroke="#fff" stroke-width="0.73">Non-face-to-face online</text>
<text class="eb" x="2122.3" y="3100.1" font-size="55.89" textLength="539.9" lengthAdjust="spacingAndGlyphs" fill="#000" stroke="#fff" stroke-width="0.73">Check-in available</text>
<text class="jb" transform="scale(1.06 1)" text-anchor="middle" x="731.6 786.6 841.6 896.5 951.5 1006.4 1061.4 1116.4" y="3486.8" fill="#000" stroke="#000" stroke-linejoin="round"><tspan font-size="53.89" dy="-1.66" stroke-width="0.70">食事</tspan><tspan font-size="55.93" dy="0.77" stroke-width="1.63">の</tspan><tspan font-size="53.89" dy="-0.77" stroke-width="0.70">配膳提供</tspan><tspan font-size="37.87" dy="-6.09">・</tspan></text>
<text class="jb" transform="scale(1.06 1)" text-anchor="middle" x="702.3 757.9 813.4 869.0 924.5 980.1 1035.6 1091.2 1146.8" y="3553.8" fill="#000" stroke="#000" stroke-linejoin="round"><tspan font-size="54.47" dy="-1.68" stroke-width="0.71">対面座席</tspan><tspan font-size="56.53" dy="0.78" stroke-width="1.65">の</tspan><tspan font-size="54.47" dy="-0.78" stroke-width="0.71">利用制限</tspan></text>
<text class="eb" x="692.8" y="3624.8" font-size="60.03" textLength="573.7" lengthAdjust="spacingAndGlyphs" fill="#000" stroke="#fff" stroke-width="0.78">Provision of meals</text>
<text class="eb" x="708.7" y="3696.0" font-size="60.03" textLength="542.0" lengthAdjust="spacingAndGlyphs" fill="#000" stroke="#fff" stroke-width="0.78">Face-to-face seat</text>
<text class="eb" x="700.4" y="3766.2" font-size="60.03" textLength="558.6" lengthAdjust="spacingAndGlyphs" fill="#000" stroke="#fff" stroke-width="0.78">usage restrictions</text>
<text class="jb" transform="scale(1.06 1)" text-anchor="middle" x="1710.9 1777.2 1843.4 1909.7" y="3578.7" fill="#000" stroke="#000" stroke-linejoin="round"><tspan font-size="64.99" dy="-2.00" stroke-width="0.84">本人確認</tspan></text>
<text class="eb" x="1711.5" y="3661.9" font-size="70.38" textLength="412.8" lengthAdjust="spacingAndGlyphs" fill="#000" stroke="#fff" stroke-width="0.91">Check your</text>
<text class="eb" x="1667.9" y="3745.4" font-size="70.38" textLength="502.2" lengthAdjust="spacingAndGlyphs" fill="#000" stroke="#fff" stroke-width="0.91">Identification</text>
<text class="jb" transform="scale(1.03 1)" text-anchor="middle" x="202.1 299.1 396.1 493.1 590.1 687.1 784.1 881.1 978.1 1075.1 1172.1 1269.1 1366.1 1463.1 1560.1 1657.1 1754.1 1851.1 1948.1 2045.1 2142.1 2239.1 2336.1 2433.1 2530.1 2627.1" y="3946.4" fill="#ff2020" stroke="#ff2020" stroke-linejoin="round"><tspan font-size="89.92" dy="-3.80" stroke-width="1.20">入館時</tspan><tspan font-size="99.91" dy="3.80" stroke-width="2.80">の</tspan><tspan font-size="98.41" dy="-0.57" stroke-width="3.00">マスク</tspan><tspan font-size="89.92" dy="-3.23" stroke-width="1.20">着用</tspan><tspan font-size="99.91" dy="3.80" stroke-width="3.00">、</tspan><tspan font-size="98.41" dy="-0.57" stroke-width="3.00">アルコール</tspan><tspan font-size="89.92" dy="-3.23" stroke-width="1.20">消毒</tspan><tspan font-size="99.91" dy="3.80" stroke-width="2.80">にご</tspan><tspan font-size="89.92" dy="-3.80" stroke-width="1.20">協力</tspan><tspan font-size="99.91" dy="3.80" stroke-width="2.80">ください</tspan><tspan font-size="99.91" dy="0.00" stroke-width="3.00">。</tspan></text>
<text class="er" x="2322.4" y="4067.7" font-size="37.00" textLength="570.1" lengthAdjust="spacingAndGlyphs" fill="#000">© Lodge Raven 2020/9/25 rev3</text>
</svg>
</body></html>
